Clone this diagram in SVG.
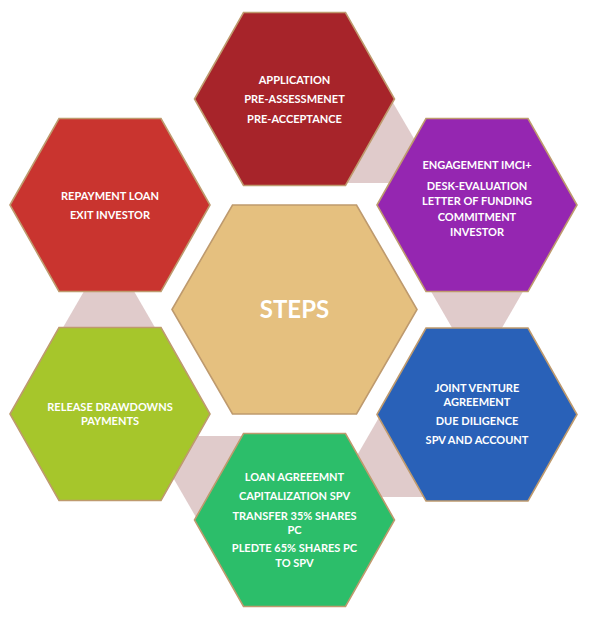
<svg xmlns="http://www.w3.org/2000/svg" xmlns:xlink="http://www.w3.org/1999/xlink" width="593" height="618" viewBox="0 0 593 618">
<style>
.hex{stroke:#BE9A6E;stroke-width:1.6}
.conn{fill:#E0CBCB}
.t{font-family:Lato,"Open Sans","Liberation Sans",sans-serif;font-weight:bold;font-size:11px;fill:#FFFFFF;text-anchor:middle}
.big{font-size:24px}
</style>
<defs>
<polygon id="hx" points="-100,0 -51,-86.5 51,-86.5 100,0 51,86.5 -51,86.5"/>
<polygon id="hxc" points="-122.5,0 -62,-104.5 62,-104.5 122.5,0 62,104.5 -62,104.5"/>
</defs>
<rect width="593" height="618" fill="#FFFFFF"/>
<g id="connectors">
<polygon class="conn" points="392,101 440,183 344,183"/>
<polygon class="conn" points="429,288 525,288 477,371"/>
<polygon class="conn" points="381,414 429,497 333,497"/>
<polygon class="conn" points="149,436 245,436 197,519"/>
<polygon class="conn" points="109,248 157,331 61,331"/>
</g>
<g id="node-application">
<use xlink:href="#hx" class="hex" fill="#A7242A" transform="translate(294.5,99)"/>
<text class="t" x="294.5" y="84">APPLICATION</text>
<text class="t" x="294.5" y="103">PRE-ASSESSMENET</text>
<text class="t" x="294.5" y="123">PRE-ACCEPTANCE</text>
</g>
<g id="node-engagement">
<use xlink:href="#hx" class="hex" fill="#9526B1" transform="translate(477,205)"/>
<text class="t" x="477" y="169">ENGAGEMENT IMCI+</text>
<text class="t" x="477" y="190">DESK-EVALUATION</text>
<text class="t" x="477" y="205">LETTER OF FUNDING</text>
<text class="t" x="477" y="221">COMMITMENT</text>
<text class="t" x="477" y="236">INVESTOR</text>
</g>
<g id="node-joint-venture">
<use xlink:href="#hx" class="hex" fill="#2961B8" transform="translate(477,414.5)"/>
<text class="t" x="477" y="392">JOINT VENTURE</text>
<text class="t" x="477" y="406">AGREEMENT</text>
<text class="t" x="477" y="425">DUE DILIGENCE</text>
<text class="t" x="477" y="444">SPV AND ACCOUNT</text>
</g>
<g id="node-loan">
<use xlink:href="#hx" class="hex" fill="#2CBE6A" transform="translate(294.5,520)"/>
<text class="t" x="294.5" y="481">LOAN AGREEEMNT</text>
<text class="t" x="294.5" y="500">CAPITALIZATION SPV</text>
<text class="t" x="294.5" y="520">TRANSFER 35% SHARES</text>
<text class="t" x="294.5" y="534">PC</text>
<text class="t" x="294.5" y="552">PLEDTE 65% SHARES PC</text>
<text class="t" x="294.5" y="567">TO SPV</text>
</g>
<g id="node-release">
<use xlink:href="#hx" class="hex" fill="#A6C62B" transform="translate(110,414)"/>
<text class="t" x="110" y="411">RELEASE DRAWDOWNS</text>
<text class="t" x="110" y="425">PAYMENTS</text>
</g>
<g id="node-repayment">
<use xlink:href="#hx" class="hex" fill="#C9342F" transform="translate(110,205)"/>
<text class="t" x="110" y="200">REPAYMENT LOAN</text>
<text class="t" x="110" y="219">EXIT INVESTOR</text>
</g>
<g id="node-steps">
<use xlink:href="#hxc" class="hex" fill="#E5C07F" transform="translate(294.5,309.5)"/>
<text class="t big" x="294.5" y="318">STEPS</text>
</g>
</svg>
